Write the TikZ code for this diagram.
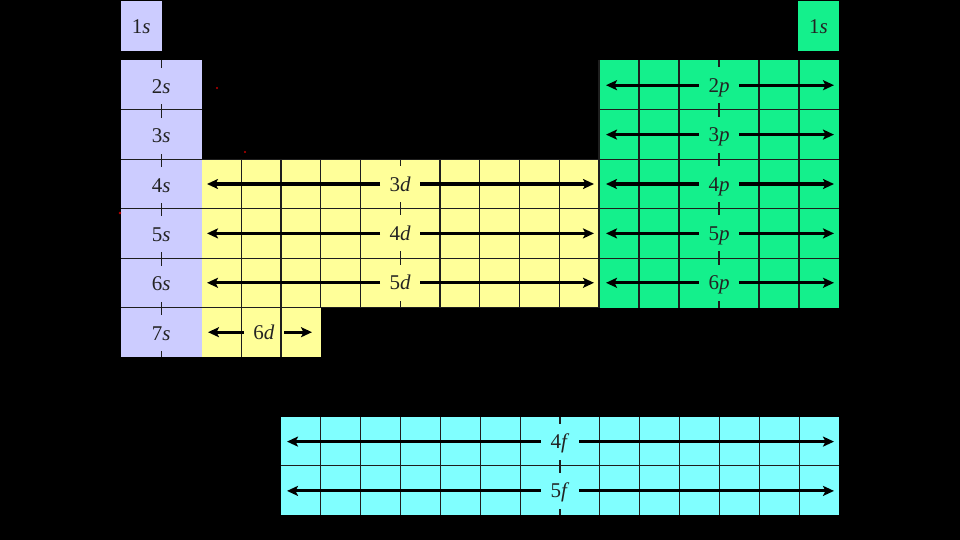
\documentclass[tikz,border=0pt]{standalone}
\usepackage{fontspec}
\setmainfont{Liberation Serif}
\usetikzlibrary{arrows.meta}
\definecolor{sblk}{RGB}{204,204,255}
\definecolor{dblk}{RGB}{255,255,153}
\definecolor{pblk}{RGB}{20,240,140}
\definecolor{fblk}{RGB}{128,255,255}
\definecolor{gridc}{RGB}{30,30,30}
\definecolor{txtc}{RGB}{35,35,35}
\definecolor{dotc}{RGB}{190,0,0}
\tikzset{
  gridl/.style={draw=gridc, line width=1.2pt},
  lbl/.style={font=\fontsize{21}{21}\selectfont, text=txtc, inner xsep=2pt, inner ysep=0pt,
              text height=16pt, text depth=2pt, minimum height=36pt, anchor=center},
  arr/.style={line width=3pt, -{Stealth[length=11pt,width=10pt,inset=2.5pt]}, shorten <=7.5pt},
  reddot/.style={fill=dotc, draw=none},
}
\begin{document}
\begin{tikzpicture}[x=1pt,y=-1pt]
\fill[black] (0,0) rectangle (960,540);
\useasboundingbox (0,0) rectangle (960,540);

% ---------- block fills ----------
\fill[sblk] (121,1) rectangle (161.5,51);
\fill[sblk] (121,60.5) rectangle (201.5,356.9);
\fill[dblk] (201.5,159.3) rectangle (599,307.5);
\fill[dblk] (201.5,307.5) rectangle (320.75,356.9);
\fill[pblk] (599,60.5) rectangle (839,307.5);
\fill[pblk] (798,1) rectangle (839,51);
\fill[fblk] (281,416.5) rectangle (839,515);

% ---------- grid lines ----------
% s block
\foreach \y in {109.9,159.3,208.7,258.1,307.5}
  \draw[gridl] (121,\y) -- (201.5,\y);
\draw[gridl] (161.3,60.5) -- (161.3,356.9);
% d block
\foreach \y in {208.7,258.1}
  \draw[gridl] (201.5,\y) -- (599,\y);
\draw[gridl] (201.5,159.3) -- (599,159.3);
\draw[gridl] (201.5,307.5) -- (599,307.5);
\foreach \i in {1,...,9}
  \draw[gridl] ({201.5+\i*39.75},159.3) -- ({201.5+\i*39.75},307.5);
\foreach \i in {1,2}
  \draw[gridl] ({201.5+\i*39.75},307.5) -- ({201.5+\i*39.75},356.9);
% p block
\foreach \y in {109.9,159.3,208.7,258.1}
  \draw[gridl] (599,\y) -- (839,\y);
\draw[gridl] (599,60.5) -- (599,307.5);
\foreach \i in {1,...,5}
  \draw[gridl] ({599+\i*40},60.5) -- ({599+\i*40},307.5);
% f block
\draw[gridl] (281,465.75) -- (839,465.75);
\foreach \i in {1,...,13}
  \draw[gridl] ({281+\i*39.857},416.5) -- ({281+\i*39.857},515);

% ---------- s labels ----------
\node[lbl,fill=sblk] (s1) at (141.3,26.5) {1\textit{s}};
\node[lbl,fill=sblk] (s2) at (161.3,86.2) {2\textit{s}};
\node[lbl,fill=sblk] (s3) at (161.3,135.6) {3\textit{s}};
\node[lbl,fill=sblk] (s4) at (161.3,185) {4\textit{s}};
\node[lbl,fill=sblk] (s5) at (161.3,234.4) {5\textit{s}};
\node[lbl,fill=sblk] (s6) at (161.3,283.8) {6\textit{s}};
\node[lbl,fill=sblk] (s7) at (161.3,333.2) {7\textit{s}};
\node[lbl,fill=pblk] (h1) at (818.5,26.5) {1\textit{s}};

% ---------- d labels + arrows ----------
\node[lbl,fill=dblk] (d3) at (400.25,184) {3\textit{d}};
\node[lbl,fill=dblk] (d4) at (400.25,233.4) {4\textit{d}};
\node[lbl,fill=dblk] (d5) at (400.25,282.8) {5\textit{d}};
\node[lbl,fill=dblk] (d6) at (264,332.2) {6\textit{d}};
\coordinate (d3L) at (207,184);    \coordinate (d3R) at (594,184);
\coordinate (d4L) at (207,233.4);  \coordinate (d4R) at (594,233.4);
\coordinate (d5L) at (207,282.8);  \coordinate (d5R) at (594,282.8);
\coordinate (d6L) at (208,332.2);  \coordinate (d6R) at (312,332.2);
\foreach \n in {d3,d4,d5,d6}{
  \draw[arr] (\n.west) -- (\n L);
  \draw[arr] (\n.east) -- (\n R);
}

% ---------- p labels + arrows ----------
\node[lbl,fill=pblk] (p2) at (719,85.2) {2\textit{p}};
\node[lbl,fill=pblk] (p3) at (719,134.6) {3\textit{p}};
\node[lbl,fill=pblk] (p4) at (719,184) {4\textit{p}};
\node[lbl,fill=pblk] (p5) at (719,233.4) {5\textit{p}};
\node[lbl,fill=pblk] (p6) at (719,282.8) {6\textit{p}};
\coordinate (p2L) at (606,85.2);   \coordinate (p2R) at (834,85.2);
\coordinate (p3L) at (606,134.6);  \coordinate (p3R) at (834,134.6);
\coordinate (p4L) at (606,184);    \coordinate (p4R) at (834,184);
\coordinate (p5L) at (606,233.4);  \coordinate (p5R) at (834,233.4);
\coordinate (p6L) at (606,282.8);  \coordinate (p6R) at (834,282.8);
\foreach \n in {p2,p3,p4,p5,p6}{
  \draw[arr] (\n.west) -- (\n L);
  \draw[arr] (\n.east) -- (\n R);
}

% ---------- f labels + arrows ----------
\node[lbl,fill=fblk] (f4) at (560,441.6) {4\textit{f}};
\node[lbl,fill=fblk] (f5) at (560,490.9) {5\textit{f}};
\coordinate (f4L) at (287,441.6);  \coordinate (f4R) at (834,441.6);
\coordinate (f5L) at (287,490.9);  \coordinate (f5R) at (834,490.9);
\foreach \n in {f4,f5}{
  \draw[arr] (\n.west) -- (\n L);
  \draw[arr] (\n.east) -- (\n R);
}

% ---------- stray red dots ----------
\fill[reddot] (217,88) circle (1.2);
\fill[reddot] (245,152) circle (1.2);
\fill[reddot] (120,213) circle (1.4);
\end{tikzpicture}
\end{document}
